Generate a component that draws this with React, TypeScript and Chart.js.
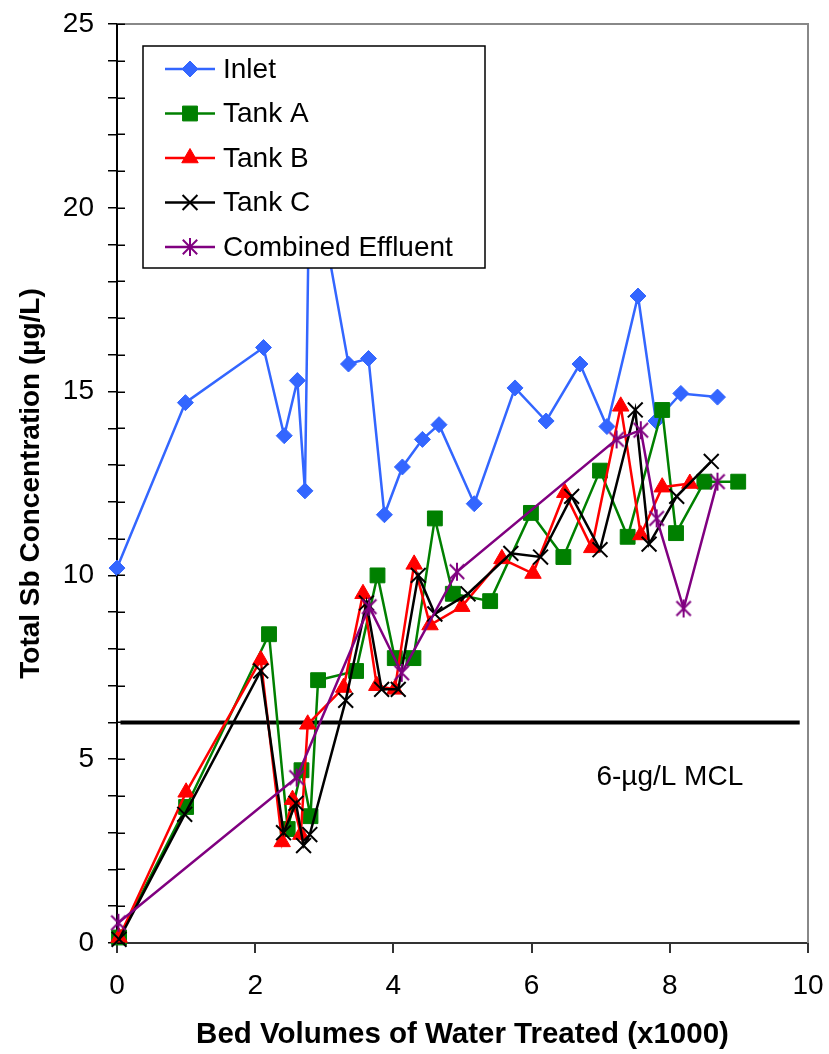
import React, { useEffect, useRef } from 'react';
import { Chart, registerables } from 'chart.js';
import { drawPoint } from 'chart.js/helpers';

Chart.register(...registerables);

const FONT = "'Liberation Sans', Arial, Helvetica, sans-serif";

// ---- data ----
const inletX = [0.0, 0.99, 2.12, 2.42, 2.61, 2.72, 2.79, 3.35, 3.64, 3.87, 4.13, 4.42, 4.66, 5.17, 5.76, 6.21, 6.70, 7.09, 7.54, 7.80, 8.16, 8.69];
const inletY = [10.2, 14.7, 16.2, 13.8, 15.3, 12.3, 21.6, 15.75, 15.9, 11.65, 12.95, 13.7, 14.1, 11.95, 15.1, 14.2, 15.75, 14.05, 17.6, 14.2, 14.95, 14.85];

const tankAX = [0.03, 1.0, 2.2, 2.47, 2.67, 2.8, 2.91, 3.46, 3.77, 4.02, 4.29, 4.6, 4.86, 5.4, 5.99, 6.46, 6.99, 7.39, 7.89, 8.09, 8.5, 8.99];
const tankAY = [0.15, 3.7, 8.4, 3.1, 4.7, 3.45, 7.15, 7.4, 10.0, 7.75, 7.75, 11.55, 9.5, 9.3, 11.7, 10.5, 12.85, 11.05, 14.5, 11.15, 12.55, 12.55];

const tankBX = [0.03, 1.0, 2.08, 2.39, 2.54, 2.66, 2.76, 3.28, 3.56, 3.76, 4.02, 4.3, 4.53, 4.99, 5.57, 6.02, 6.48, 6.87, 7.29, 7.58, 7.89, 8.29];
const tankBY = [0.15, 4.1, 7.7, 2.75, 3.9, 2.95, 5.95, 6.95, 9.5, 7.0, 6.9, 10.3, 8.65, 9.15, 10.45, 10.05, 12.25, 10.75, 14.6, 11.1, 12.4, 12.5];

const tankCX = [0.03, 0.98, 2.08, 2.41, 2.59, 2.7, 2.79, 3.31, 3.61, 3.83, 4.07, 4.36, 4.6, 5.08, 5.7, 6.13, 6.58, 6.99, 7.5, 7.7, 8.1, 8.6];
const tankCY = [0.1, 3.5, 7.4, 3.0, 3.8, 2.65, 2.95, 6.6, 9.25, 6.9, 6.9, 10.0, 8.95, 9.5, 10.6, 10.5, 12.15, 10.7, 14.5, 10.85, 12.15, 13.1];

const combX = [0.02, 2.6, 3.65, 4.12, 4.92, 7.23, 7.58, 7.81, 8.2, 8.69];
const combY = [0.55, 4.5, 9.15, 7.35, 10.1, 13.7, 13.95, 11.55, 9.1, 12.55];

const mclX = [0.05, 9.88];
const mclValue = 6;
const mclLabel = '6-µg/L MCL';
const mclLabelX = 8.0;
const mclLabelY = 4.52;

const xTitle = 'Bed Volumes of Water Treated (x1000)';
const yTitle = 'Total Sb Concentration (µg/L)';

const BLUE = '#3366ff';
const GREEN = '#008000';
const RED = '#ff0000';
const BLACK = '#000000';
const PURPLE = '#800080';

function makeAsterisk(r: number, color: string, lw: number) {
  const size = Math.ceil(2 * r + lw * 2);
  const c = document.createElement('canvas');
  c.width = size;
  c.height = size;
  const g = c.getContext('2d')!;
  const m = size / 2;
  const d = r * 0.8;
  g.strokeStyle = color;
  g.lineWidth = lw;
  g.beginPath();
  g.moveTo(m, m - r);
  g.lineTo(m, m + r);
  g.moveTo(m - d, m - d);
  g.lineTo(m + d, m + d);
  g.moveTo(m + d, m - d);
  g.lineTo(m - d, m + d);
  g.stroke();
  return c;
}

export default function App() {
  const ref = useRef<HTMLCanvasElement>(null);

  useEffect(() => {
    const canvas = ref.current!;
    const star = makeAsterisk(9, PURPLE, 2);

    const series: any[] = [
      { label: 'Inlet', xs: inletX, ys: inletY, color: BLUE, style: 'rectRot', radius: 8, pbw: 1, order: 4 },
      { label: 'Tank A', xs: tankAX, ys: tankAY, color: GREEN, style: 'rect', radius: 10.5, pbw: 1, order: 3 },
      { label: 'Tank B', xs: tankBX, ys: tankBY, color: RED, style: 'triangle', radius: 9.5, pbw: 1, order: 2 },
      { label: 'Tank C', xs: tankCX, ys: tankCY, color: BLACK, style: 'crossRot', radius: 10.5, pbw: 2, order: 1 },
      { label: 'Combined Effluent', xs: combX, ys: combY, color: PURPLE, style: star, radius: 9, pbw: 2, order: 0 },
    ];

    const datasets: any[] = series.map((s) => ({
      label: s.label,
      data: s.xs.map((x: number, i: number) => ({ x, y: s.ys[i] })),
      showLine: true,
      borderColor: s.color,
      backgroundColor: s.color,
      borderWidth: 2.5,
      pointStyle: s.style,
      pointRadius: s.radius,
      pointBorderWidth: s.pbw,
      pointBackgroundColor: s.color,
      pointBorderColor: s.color,
      order: s.order,
      clip: false,
    }));

    datasets.push({
      label: 'MCL',
      data: mclX.map((x) => ({ x, y: mclValue })),
      showLine: true,
      borderColor: '#000',
      borderWidth: 4,
      pointRadius: 0,
      order: 10,
      clip: false,
    });

    const decor = {
      id: 'decor',
      afterDatasetsDraw(chart: any) {
        const { ctx, chartArea } = chart;
        const { left, right, top, bottom } = chartArea;
        const xs = chart.scales.x;
        const ys = chart.scales.y;
        ctx.save();
        // top/right frame
        ctx.strokeStyle = '#888888';
        ctx.lineWidth = 2;
        ctx.beginPath();
        ctx.moveTo(left, top);
        ctx.lineTo(right, top);
        ctx.lineTo(right, bottom);
        ctx.stroke();
        // inner part of y ticks
        ctx.strokeStyle = '#000';
        ctx.lineWidth = 1.5;
        ctx.beginPath();
        ys.ticks.forEach((t: any) => {
          const py = Math.round(ys.getPixelForValue(t.value)) + 0.25;
          ctx.moveTo(left, py);
          ctx.lineTo(left + 8, py);
        });
        ctx.stroke();
        // MCL label
        ctx.fillStyle = '#000';
        ctx.font = `28px ${FONT}`;
        ctx.textAlign = 'center';
        ctx.textBaseline = 'middle';
        ctx.fillText(mclLabel, xs.getPixelForValue(mclLabelX), ys.getPixelForValue(mclLabelY));

        // legend
        const bx = left + 26;
        const by = top + 22;
        const bw = 342;
        const bh = 222;
        ctx.fillStyle = '#fff';
        ctx.fillRect(bx, by, bw, bh);
        ctx.strokeStyle = '#000';
        ctx.lineWidth = 1.5;
        ctx.strokeRect(bx, by, bw, bh);
        series.forEach((s, i) => {
          const ry = by + 23 + i * 44.5;
          ctx.strokeStyle = s.color;
          ctx.lineWidth = 2.5;
          ctx.beginPath();
          ctx.moveTo(bx + 22, ry);
          ctx.lineTo(bx + 72, ry);
          ctx.stroke();
          ctx.fillStyle = s.color;
          ctx.strokeStyle = s.color;
          ctx.lineWidth = s.pbw;
          drawPoint(ctx, { pointStyle: s.style, rotation: 0, radius: s.radius, borderWidth: s.pbw }, bx + 47, ry);
          ctx.fillStyle = '#000';
          ctx.font = `28px ${FONT}`;
          ctx.textAlign = 'left';
          ctx.textBaseline = 'middle';
          ctx.fillText(s.label, bx + 80, ry + 1);
        });
        ctx.restore();
      },
    };

    const chart = new Chart(canvas, {
      type: 'scatter',
      data: { datasets },
      options: {
        responsive: false,
        animation: false,
        devicePixelRatio: 1,
        layout: { padding: { top: 24, right: 21, left: 0, bottom: 0 } },
        plugins: { legend: { display: false }, tooltip: { enabled: false } },
        scales: {
          x: {
            type: 'linear',
            min: 0,
            max: 10,
            afterFit: (s: any) => {
              s.height = 111;
              s.paddingLeft = 0;
              s.paddingRight = 0;
            },
            ticks: {
              stepSize: 2,
              color: '#000',
              font: { family: FONT, size: 28 },
              padding: 16,
              maxRotation: 0,
              autoSkip: false,
            },
            grid: { drawOnChartArea: false, drawTicks: true, tickLength: 10, color: '#333', lineWidth: 2 },
            border: { display: true, color: '#333', width: 2 },
            title: {
              display: true,
              text: xTitle,
              color: '#000',
              font: { family: FONT, size: 29.5, weight: 'bold' },
              padding: { top: 0, bottom: 1 },
            },
          },
          y: {
            type: 'linear',
            min: 0,
            max: 25,
            afterFit: (s: any) => {
              s.width = 117;
              s.paddingTop = 0;
              s.paddingBottom = 0;
            },
            ticks: {
              stepSize: 1,
              autoSkip: false,
              color: '#000',
              font: { family: FONT, size: 28 },
              padding: 14,
              callback: (v: any) => (Number(v) % 5 === 0 ? String(v) : ''),
            },
            grid: { drawOnChartArea: false, drawTicks: true, tickLength: 9, color: '#000', lineWidth: 1.5 },
            border: { display: true, color: '#000', width: 2 },
            title: {
              display: true,
              text: yTitle,
              color: '#000',
              font: { family: FONT, size: 28, weight: 'bold' },
              padding: { top: 14, bottom: 0 },
            },
          },
        },
      } as any,
      plugins: [decor],
    });
    return () => chart.destroy();
  }, []);

  return (
    <div style={{ position: 'absolute', left: 0, top: 0, width: 829, height: 1054, background: '#fff' }}>
      <canvas ref={ref} width={829} height={1054} />
    </div>
  );
}
